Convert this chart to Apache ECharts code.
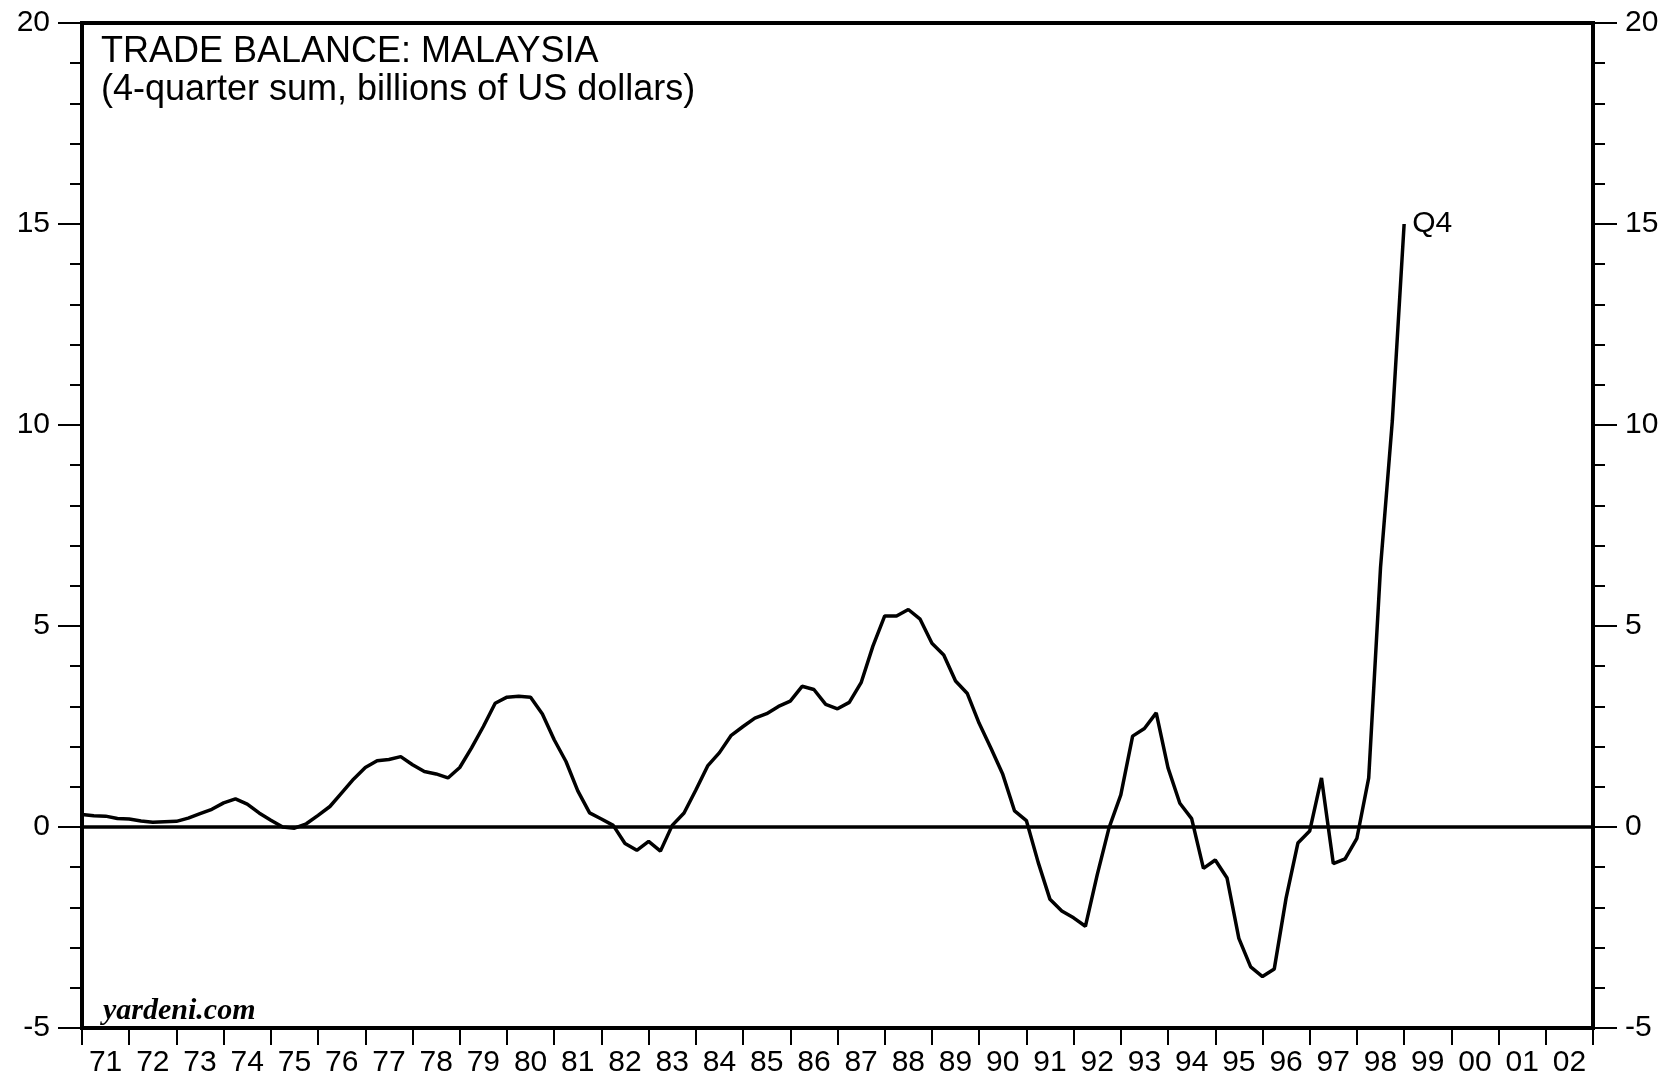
<!DOCTYPE html>
<html>
<head>
<meta charset="utf-8">
<title>Trade Balance: Malaysia</title>
<script src="https://cdn.jsdelivr.net/npm/echarts@6/dist/echarts.min.js"></script>
<style>
  html, body { margin: 0; padding: 0; background: #fff; }
  #chart { width: 1669px; height: 1078px; }
</style>
</head>
<body>
<div id="chart"></div>
<script>
// 4-quarter sum, billions of US$; first point is 1970 Q4, last is 1998 Q4
var firstQuarterEnd = 1971;
var tb1970s = [0.31, 0.28, 0.27, 0.21, 0.20, 0.15, 0.12, 0.13, 0.14, 0.22,
  0.33, 0.44, 0.60, 0.70, 0.57, 0.35, 0.17, 0.00, -0.03, 0.08,
  0.29, 0.51, 0.85, 1.19, 1.48, 1.65, 1.68, 1.75, 1.55, 1.38,
  1.32, 1.22, 1.48, 1.97, 2.50, 3.08, 3.23];
var tb1980s = [3.25, 3.23, 2.81, 2.17, 1.63, 0.90, 0.35, 0.20, 0.04, -0.41,
  -0.58, -0.36, -0.60, 0.04, 0.35, 0.92, 1.52, 1.85, 2.28, 2.50,
  2.71, 2.82, 3.00, 3.13, 3.50, 3.42, 3.05, 2.94, 3.10, 3.59,
  4.50, 5.25, 5.25, 5.41, 5.17, 4.57, 4.28, 3.63, 3.32, 2.58];
var tb1990s = [1.96, 1.31, 0.40, 0.16, -0.88, -1.80, -2.09, -2.26, -2.47, -1.19,
  -0.02, 0.80, 2.26, 2.45, 2.84, 1.47, 0.59, 0.21, -1.03, -0.82,
  -1.27, -2.77, -3.48, -3.72, -3.53, -1.77, -0.40, -0.10, 1.22, -0.91,
  -0.79, -0.28, 1.22, 6.45, 10.1, 15.0];
var yearLabels = ['71', '72', '73', '74', '75', '76', '77', '78', '79', '80',
  '81', '82', '83', '84', '85', '86', '87', '88', '89', '90',
  '91', '92', '93', '94', '95', '96', '97', '98', '99', '00', '01', '02'];

var values = tb1970s.concat(tb1980s, tb1990s);
var seriesData = [];
for (var i = 0; i < values.length; i++) {
  // quarters plotted at the end of the quarter
  seriesData.push([firstQuarterEnd + i / 4, values[i]]);
}

var FONT = '"Liberation Sans", Arial, Helvetica, sans-serif';
var myChart = echarts.init(document.getElementById('chart'), null, { renderer: 'canvas' });

var yAxisBase = {
  type: 'value',
  min: -5,
  max: 20,
  interval: 5,
  axisLine: { show: false },
  splitLine: { show: false },
  axisTick: { show: true, inside: false, length: 24, lineStyle: { color: '#000', width: 2 } },
  minorTick: { show: true, splitNumber: 5, length: 12, lineStyle: { color: '#000', width: 2 } },
  axisLabel: { color: '#000', fontSize: 30, fontFamily: FONT, margin: 32 }
};

var option = {
  animation: false,
  backgroundColor: '#fff',
  title: {
    text: 'TRADE BALANCE: MALAYSIA\n(4-quarter sum, billions of US dollars)',
    left: 101,
    top: 33,
    padding: 0,
    textStyle: { color: '#000', fontSize: 36, fontWeight: 'normal', fontFamily: FONT, lineHeight: 38 }
  },
  graphic: [{
    type: 'text',
    left: 103,
    top: 996,
    style: {
      text: 'yardeni.com',
      fill: '#000',
      font: 'italic bold 30px "Liberation Serif", "Times New Roman", serif'
    }
  }],
  grid: {
    left: 82,
    right: 76,
    top: 23,
    bottom: 48,
    show: true,
    borderColor: '#000',
    borderWidth: 4,
    backgroundColor: 'transparent'
  },
  xAxis: [{
    type: 'value',
    min: 1971,
    max: 2003,
    interval: 1,
    axisLine: { show: false, onZero: false },
    splitLine: { show: false },
    axisTick: { show: true, length: 17, lineStyle: { color: '#000', width: 2 } },
    axisLabel: { show: false }
  }, {
    type: 'category',
    data: yearLabels,
    boundaryGap: true,
    position: 'bottom',
    axisLine: { show: false, onZero: false },
    axisTick: { show: false },
    splitLine: { show: false },
    axisLabel: { color: '#000', fontSize: 30, fontFamily: FONT, margin: 20, interval: 0 }
  }],
  yAxis: [
    Object.assign({}, yAxisBase, { position: 'left' }),
    Object.assign({}, yAxisBase, { position: 'right' })
  ],
  series: [{
    name: 'Trade balance',
    type: 'line',
    xAxisIndex: 0,
    yAxisIndex: 0,
    data: seriesData,
    showSymbol: false,
    symbol: 'none',
    lineStyle: { color: '#000', width: 3.5 },
    endLabel: {
      show: true,
      formatter: 'Q4',
      color: '#000',
      fontSize: 30,
      fontFamily: FONT,
      distance: 8
    },
    markLine: {
      silent: true,
      symbol: 'none',
      label: { show: false },
      lineStyle: { color: '#000', width: 3.5, type: 'solid' },
      data: [{ yAxis: 0 }]
    }
  }]
};

myChart.setOption(option);
window.addEventListener('resize', function () { myChart.resize(); });
</script>
</body>
</html>
